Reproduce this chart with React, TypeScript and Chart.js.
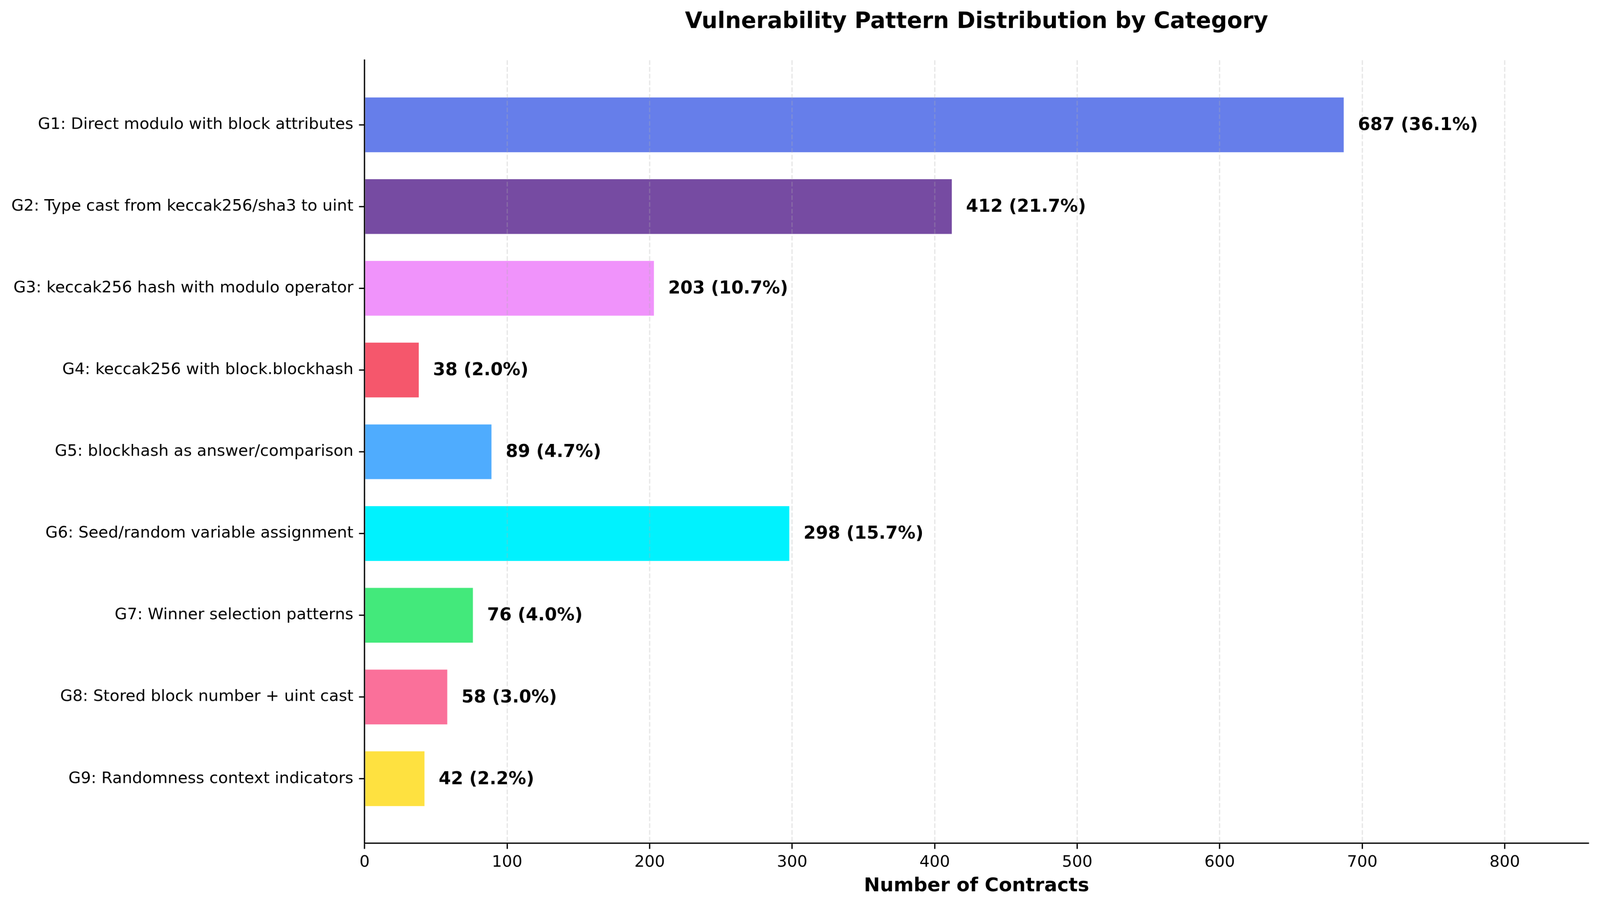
import React, { useEffect, useRef } from 'react';
import { Chart, registerables } from 'chart.js';

Chart.register(...registerables);

const categories = [
  'G1: Direct modulo with block attributes',
  'G2: Type cast from keccak256/sha3 to uint',
  'G3: keccak256 hash with modulo operator',
  'G4: keccak256 with block.blockhash',
  'G5: blockhash as answer/comparison',
  'G6: Seed/random variable assignment',
  'G7: Winner selection patterns',
  'G8: Stored block number + uint cast',
  'G9: Randomness context indicators',
];

const counts = [687, 412, 203, 38, 89, 298, 76, 58, 42];

const barColors = [
  '#667eea',
  '#764ba2',
  '#f093fb',
  '#f5576c',
  '#4facfe',
  '#00f2fe',
  '#43e97b',
  '#fa709a',
  '#fee140',
];

const xTickValues = [0, 100, 200, 300, 400, 500, 600, 700, 800];

const FONT = '"DejaVu Sans", "Liberation Sans", sans-serif';
const total = counts.reduce((a, b) => a + b, 0);
const xMax = Math.max(...counts) * 1.25;

const CANVAS_W = 4169;
const CANVAS_H = 2364;

const barLabelPlugin = {
  id: 'barLabels',
  afterDraw(chart: any) {
    const ctx = chart.ctx;
    const xs = chart.scales.x;
    const meta = chart.getDatasetMeta(0);
    ctx.save();
    ctx.font = `bold 45.83px ${FONT}`;
    ctx.fillStyle = '#000';
    ctx.textAlign = 'left';
    ctx.textBaseline = 'middle';
    meta.data.forEach((el: any, i: number) => {
      const v = counts[i];
      const pct = ((v / total) * 100).toFixed(1);
      ctx.fillText(`${v} (${pct}%)`, xs.getPixelForValue(v + 10), el.y + 2);
    });
    ctx.restore();
  },
};

export default function App() {
  const canvasRef = useRef<HTMLCanvasElement | null>(null);

  useEffect(() => {
    if (!canvasRef.current) return;
    Chart.defaults.font.family = FONT;
    const chart = new Chart(canvasRef.current, {
      type: 'bar',
      data: {
        datasets: [
          {
            data: counts.map((v, i) => ({ x: v, y: i })),
            backgroundColor: barColors,
            borderWidth: 0,
            barPercentage: 0.67,
            categoryPercentage: 1,
          } as any,
        ],
      },
      plugins: [barLabelPlugin],
      options: {
        indexAxis: 'y',
        animation: false,
        responsive: false,
        devicePixelRatio: 1,
        layout: { padding: { left: 0, right: 30, top: 0, bottom: 0 } },
        plugins: {
          legend: { display: false },
          tooltip: { enabled: false },
          title: {
            display: true,
            fullSize: false,
            text: 'Vulnerability Pattern Distribution by Category',
            color: '#000',
            font: { family: FONT, size: 58.33, weight: 'bold', lineHeight: 1.2 },
            padding: { top: 23, bottom: 64 },
          },
        },
        scales: {
          x: {
            type: 'linear',
            position: 'bottom',
            min: 0,
            max: xMax,
            afterBuildTicks: (s: any) => {
              s.ticks = xTickValues.map((v) => ({ value: v }));
            },
            afterFit: (s: any) => {
              s.height = 166;
            },
            ticks: {
              autoSkip: false,
              includeBounds: false,
              color: '#000',
              padding: 11,
              font: { family: FONT, size: 41.67, lineHeight: 1.2 },
            },
            grid: {
              display: true,
              drawOnChartArea: true,
              offset: false,
              color: 'rgba(176,176,176,0.3)',
              lineWidth: 3.33,
              drawTicks: true,
              tickLength: 14.6,
              tickColor: '#000',
              tickWidth: 3.33,
              z: 1,
            },
            border: { display: true, color: '#000', width: 3.33, dash: [12.3, 5.3], z: 2 },
            title: {
              display: true,
              text: 'Number of Contracts',
              color: '#000',
              font: { family: FONT, size: 50, weight: 'bold', lineHeight: 1.2 },
              padding: { top: 0, bottom: 24 },
            },
          } as any,
          y: {
            type: 'linear',
            reverse: true,
            offset: false,
            min: -0.79,
            max: 8.79,
            afterBuildTicks: (s: any) => {
              s.ticks = categories.map((_, i) => ({ value: i }));
            },
            afterFit: (s: any) => {
              s.width = 950;
            },
            ticks: {
              autoSkip: false,
              color: '#000',
              padding: 14.6,
              font: { family: FONT, size: 41.67, lineHeight: 1.2 },
              callback: (v: any) => categories[v as number] ?? '',
            },
            grid: {
              display: true,
              offset: false,
              drawOnChartArea: false,
              drawTicks: true,
              tickLength: 14.6,
              tickColor: '#000',
              tickWidth: 3.33,
            },
            border: { display: true, color: '#000', width: 3.33, z: 2 },
          } as any,
        },
      },
    });
    return () => chart.destroy();
  }, []);

  return (
    <div
      style={{
        position: 'fixed',
        left: 0,
        top: 0,
        width: '100vw',
        height: `calc(100vw * ${CANVAS_H} / ${CANVAS_W})`,
        background: '#fff',
        overflow: 'hidden',
      }}
    >
      <canvas
        ref={canvasRef}
        width={CANVAS_W}
        height={CANVAS_H}
        style={{
          display: 'block',
          width: '100vw',
          height: `calc(100vw * ${CANVAS_H} / ${CANVAS_W})`,
        }}
      />
    </div>
  );
}
